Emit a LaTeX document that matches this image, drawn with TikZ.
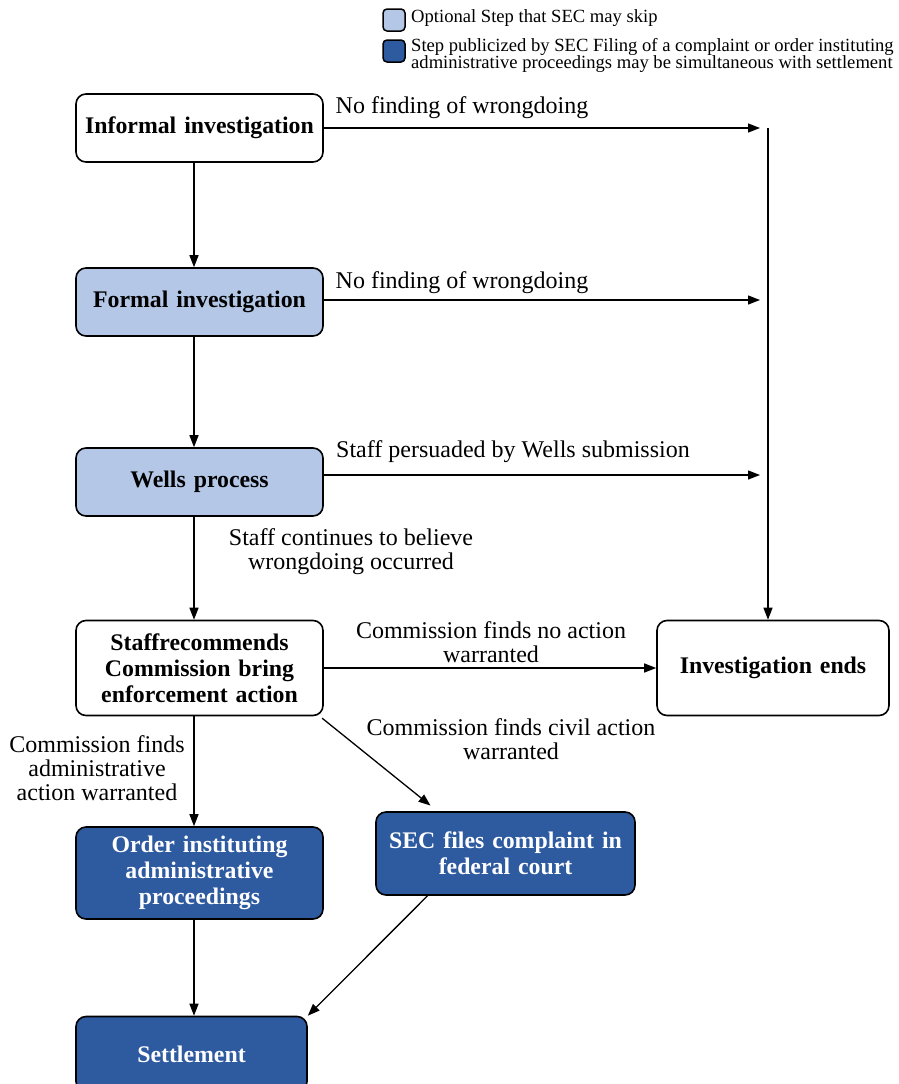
\documentclass[tikz,border=0pt]{standalone}
\usepackage{fontspec}
\setmainfont{Liberation Serif}
\usetikzlibrary{arrows.meta}
\definecolor{optblue}{RGB}{180,199,231}
\definecolor{pubblue}{RGB}{46,90,160}
\tikzset{
  stepbox/.style={draw, line width=1.6pt, rounded corners=10pt, align=center,
    inner xsep=8pt, inner ysep=4pt, font=\fontsize{23.8}{26}\selectfont\bfseries},
  optstep/.style={stepbox, fill=optblue},
  pubstep/.style={stepbox, fill=pubblue, text=white},
  note/.style={align=center, inner sep=1pt, font=\fontsize{24}{24}\selectfont},
  legendkey/.style={draw, line width=1.5pt, rounded corners=4pt, minimum size=22pt, inner sep=0pt},
  arr/.style={-{Triangle[length=12pt,width=9pt]}, line width=1.3pt}
}
\begin{document}
\begin{tikzpicture}[x=1pt, y=-1pt]
\useasboundingbox (0,0) rectangle (899,1084);
% legend
\node[legendkey, fill=optblue] (key1) at (394,20) {};
\node[legendkey, fill=pubblue] (key2) at (394,51) {};
\node[anchor=west, inner sep=0pt, font=\fontsize{18.6}{17}\selectfont] (leg1) at (411,18) {Optional Step that SEC may skip};
\node[anchor=west, inner sep=0pt, align=left, font=\fontsize{18.6}{17}\selectfont] (leg2) at (411,55)
  {Step publicized by SEC Filing of a complaint or order instituting\\administrative proceedings may be simultaneous with settlement};
% steps
\node[stepbox, text width=231pt, minimum height=68pt] (inf) at (199.5,128) {Informal investigation};
\node[optstep, text width=231pt, minimum height=68pt] (form) at (199.5,302) {Formal investigation};
\node[optstep, text width=231pt, minimum height=68pt] (wells) at (199.5,482) {Wells process};
\node[stepbox, text width=231pt, minimum height=95pt] (rec) at (199.5,668) {Staffrecommends\\Commission bring\\enforcement action};
\node[stepbox, text width=216pt, minimum height=95pt] (ends) at (773,668) {Investigation ends};
\node[pubstep, text width=231pt, minimum height=92pt] (order) at (199.5,873) {Order instituting\\administrative\\proceedings};
\node[pubstep, text width=243pt, minimum height=83pt] (sec) at (505.5,853.5) {SEC files complaint in\\federal court};
\node[pubstep, text width=215pt, minimum height=75pt] (settle) at (191.5,1054) {Settlement};
% right-hand collector
\coordinate (e1) at (760,128);
\coordinate (e2) at (760,300);
\coordinate (e3) at (760,475);
\coordinate (rt) at (768,128);
% labels
\node[note] (nf1) at (462,108) {No finding of wrongdoing};
\node[note] (nf2) at (462,283) {No finding of wrongdoing};
\node[note] (pers) at (513,452) {Staff persuaded by Wells submission};
\node[note] (cont) at (351,552) {Staff continues to believe\\wrongdoing occurred};
\node[note] (noact) at (491,642) {Commission finds no action\\warranted};
\node[note] (civil) at (511,739) {Commission finds civil action\\warranted};
\node[note] (admin) at (97,768) {Commission finds\\administrative\\action warranted};
% connectors
\draw[arr] ([xshift=-5.5pt]inf.south) -- ([xshift=-5.5pt]form.north);
\draw[arr] ([xshift=-5.5pt]form.south) -- ([xshift=-5.5pt]wells.north);
\draw[arr] ([xshift=-5.5pt]wells.south) -- ([xshift=-5.5pt]rec.north);
\draw[arr] ([xshift=-5.5pt]rec.south) -- ([xshift=-5.5pt]order.north);
\draw[arr] ([xshift=-5.5pt]order.south) -- ([xshift=-5.5pt]order.south |- settle.north);
\draw[arr] (inf.east |- e1) -- (e1);
\draw[arr] (form.east |- e2) -- (e2);
\draw[arr] (wells.east |- e3) -- (e3);
\draw[arr] (rt) -- (rt |- ends.north);
\draw[arr] (rec.east) -- (ends.west);
\draw[arr, shorten <=3pt, shorten >=9pt] ([xshift=-4pt]rec.south east) -- ([xshift=-68pt]sec.north);
\draw[arr] ([xshift=-78pt]sec.south) -- (settle.north east);
\end{tikzpicture}
\end{document}
